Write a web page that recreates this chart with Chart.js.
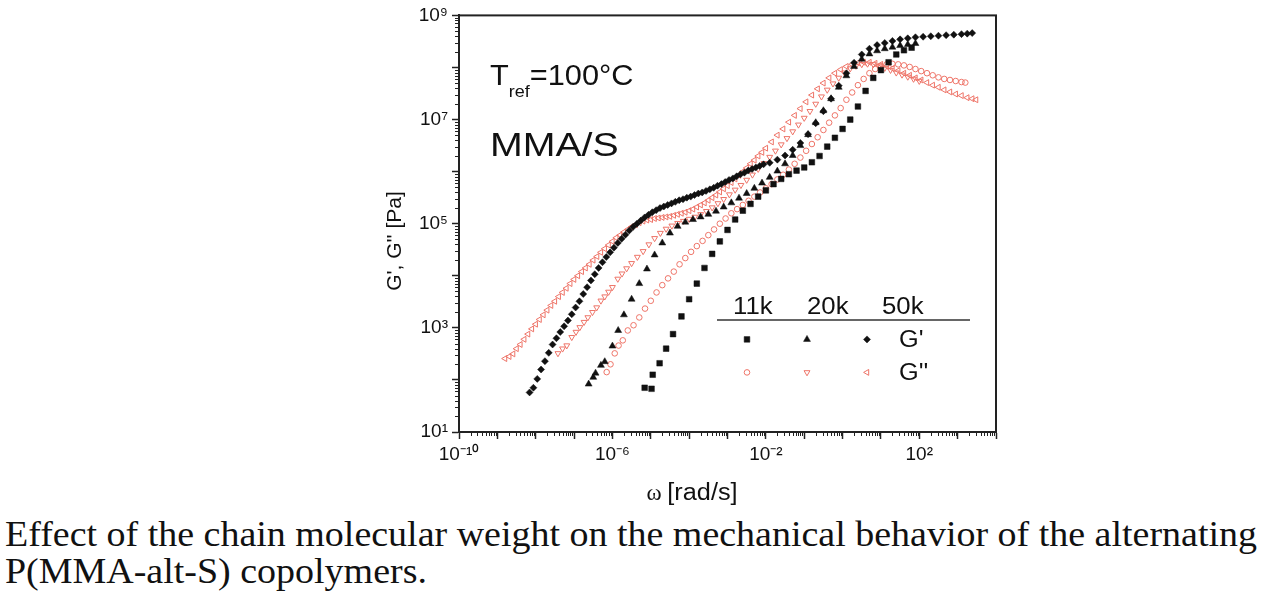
<!DOCTYPE html>
<html><head><meta charset="utf-8">
<script src="https://cdn.jsdelivr.net/npm/chart.js@4.4.1/dist/chart.umd.min.js"></script>
<style>
html,body{margin:0;padding:0;background:#fff;width:1264px;height:592px;overflow:hidden}
#wrap{position:absolute;left:0;top:0;width:1264px;height:505px}
#cap{position:absolute;left:5px;top:516px;font-family:"Liberation Serif","Times New Roman",serif;font-size:35px;line-height:37px;color:#111;white-space:nowrap;transform-origin:0 0}
#l1{display:inline-block}
</style></head><body>
<div id="wrap"><canvas id="c" width="1264" height="505"></canvas></div>
<div id="cap"><span id="l1">Effect of the chain molecular weight on the mechanical behavior of the alternating</span><br>P(MMA-alt-S) copolymers.</div>
<script>
// ---- data: [log10(omega / rad s^-1), log10(G / Pa)] ----
const s11kGp = [[-5.16,1.85],[-4.98,1.83],[-4.95,2.1],[-4.77,2.32],[-4.6,2.6],[-4.42,2.88],[-4.2,3.22],[-4.0,3.55],[-3.8,3.85],[-3.6,4.15],[-3.4,4.42],[-3.2,4.66],[-3.0,4.88],[-2.8,5.08],[-2.6,5.25],[-2.4,5.38],[-2.2,5.52],[-2.0,5.64],[-1.8,5.76],[-1.6,5.86],[-1.4,5.95],[-1.2,6.02],[-1.0,6.08],[-0.8,6.18],[-0.6,6.3],[-0.4,6.48],[-0.2,6.65],[0.0,6.82],[0.2,7.0],[0.4,7.25],[0.6,7.55],[0.8,7.8],[1.0,7.95],[1.2,8.1],[1.4,8.25],[1.6,8.33],[1.8,8.38]];

const s20kGp = [[-6.62,1.92],[-6.5,2.05],[-6.44,2.13],[-6.3,2.28],[-6.2,2.35],[-6.0,2.65],[-5.85,2.95],[-5.7,3.25],[-5.5,3.55],[-5.3,3.85],[-5.1,4.13],[-4.9,4.4],[-4.7,4.63],[-4.5,4.82],[-4.3,4.95],[-4.1,5.03],[-3.9,5.08],[-3.7,5.13],[-3.5,5.18],[-3.3,5.24],[-3.1,5.32],[-2.9,5.4],[-2.7,5.49],[-2.5,5.58],[-2.3,5.68],[-2.1,5.78],[-1.9,5.89],[-1.7,6.01],[-1.5,6.15],[-1.3,6.31],[-1.1,6.5],[-0.9,6.71],[-0.7,6.94],[-0.5,7.17],[-0.3,7.4],[-0.1,7.62],[0.1,7.84],[0.3,8.02],[0.5,8.16],[0.7,8.26],[0.9,8.32],[1.1,8.36],[1.3,8.39],[1.5,8.42],[1.7,8.44],[1.9,8.46]];

const s50kGp = [[-8.16,1.76],[-8.06,1.85],[-7.96,2.02],[-7.86,2.2],[-7.76,2.36],[-7.66,2.52],[-7.56,2.68],[-7.46,2.8],[-7.36,2.92],[-7.26,3.03],[-7.16,3.14],[-7.06,3.26],[-6.96,3.39],[-6.86,3.51],[-6.76,3.65],[-6.66,3.78],[-6.56,3.91],[-6.46,4.03],[-6.36,4.15],[-6.26,4.26],[-6.16,4.36],[-6.06,4.45],[-5.96,4.54],[-5.86,4.63],[-5.76,4.71],[-5.66,4.79],[-5.56,4.87],[-5.46,4.94],[-5.36,5.0],[-5.26,5.06],[-5.16,5.12],[-5.06,5.17],[-4.96,5.22],[-4.86,5.26],[-4.76,5.3],[-4.66,5.33],[-4.56,5.36],[-4.46,5.39],[-4.36,5.42],[-4.26,5.45],[-4.16,5.47],[-4.06,5.5],[-3.96,5.52],[-3.86,5.55],[-3.76,5.58],[-3.66,5.6],[-3.56,5.63],[-3.46,5.66],[-3.36,5.69],[-3.26,5.73],[-3.16,5.76],[-3.06,5.8],[-2.96,5.84],[-2.86,5.87],[-2.76,5.91],[-2.66,5.95],[-2.56,5.98],[-2.46,6.02],[-2.36,6.05],[-2.26,6.08],[-2.16,6.11],[-2.06,6.14],[-1.9,6.17],[-1.7,6.23],[-1.5,6.31],[-1.3,6.42],[-1.1,6.55],[-0.9,6.72],[-0.7,6.93],[-0.5,7.16],[-0.3,7.4],[-0.1,7.65],[0.1,7.89],[0.3,8.09],[0.5,8.25],[0.7,8.36],[0.9,8.43],[1.1,8.47],[1.3,8.51],[1.5,8.54],[1.7,8.56],[1.9,8.58],[2.1,8.59],[2.3,8.6],[2.5,8.61],[2.7,8.62],[2.9,8.63],[3.1,8.64],[3.25,8.65],[3.38,8.66]];

const s11kGpp = [[-6.15,2.15],[-6.05,2.3],[-5.94,2.51],[-5.84,2.66],[-5.73,2.76],[-5.6,2.95],[-5.45,3.05],[-5.3,3.2],[-5.15,3.37],[-5.0,3.52],[-4.85,3.68],[-4.7,3.82],[-4.55,3.95],[-4.4,4.08],[-4.25,4.22],[-4.1,4.34],[-3.95,4.46],[-3.8,4.57],[-3.65,4.67],[-3.5,4.78],[-3.35,4.89],[-3.2,5.0],[-3.05,5.1],[-2.9,5.2],[-2.75,5.28],[-2.6,5.36],[-2.45,5.44],[-2.3,5.52],[-2.15,5.6],[-2.0,5.68],[-1.85,5.76],[-1.7,5.85],[-1.55,5.94],[-1.4,6.04],[-1.25,6.15],[-1.1,6.27],[-0.95,6.4],[-0.8,6.53],[-0.65,6.66],[-0.5,6.8],[-0.35,6.94],[-0.2,7.08],[-0.05,7.22],[0.1,7.38],[0.25,7.52],[0.4,7.66],[0.55,7.78],[0.7,7.89],[0.85,7.97],[1.0,8.03],[1.15,8.06],[1.3,8.07],[1.45,8.06],[1.6,8.04],[1.75,8.01],[1.9,7.97],[2.05,7.93],[2.2,7.89],[2.35,7.85],[2.5,7.81],[2.65,7.78],[2.8,7.76],[2.95,7.74],[3.1,7.72],[3.2,7.71]];

const s20kGpp = [[-7.42,2.51],[-7.3,2.6],[-7.19,2.66],[-7.06,2.82],[-6.95,2.92],[-6.85,3.01],[-6.74,3.11],[-6.64,3.2],[-6.52,3.3],[-6.41,3.39],[-6.3,3.52],[-6.2,3.6],[-6.1,3.69],[-6.0,3.78],[-5.86,3.94],[-5.75,4.04],[-5.63,4.14],[-5.5,4.24],[-5.35,4.36],[-5.2,4.47],[-5.05,4.6],[-4.9,4.72],[-4.75,4.82],[-4.6,4.9],[-4.45,4.96],[-4.3,5.01],[-4.15,5.05],[-4.0,5.09],[-3.85,5.13],[-3.7,5.18],[-3.55,5.24],[-3.4,5.31],[-3.25,5.39],[-3.1,5.47],[-2.95,5.56],[-2.8,5.65],[-2.65,5.74],[-2.5,5.84],[-2.35,5.94],[-2.2,6.05],[-2.05,6.16],[-1.9,6.28],[-1.75,6.4],[-1.6,6.52],[-1.45,6.64],[-1.3,6.77],[-1.15,6.9],[-1.0,7.03],[-0.85,7.16],[-0.7,7.3],[-0.55,7.44],[-0.4,7.57],[-0.25,7.69],[-0.1,7.8],[0.05,7.9],[0.2,7.98],[0.35,8.03],[0.5,8.06],[0.65,8.07],[0.8,8.06],[0.95,8.03],[1.1,7.99],[1.25,7.95],[1.4,7.9],[1.55,7.86],[1.7,7.82],[1.85,7.78],[2.0,7.74]];

const s50kGpp = [[-8.80,2.41],[-8.69,2.45],[-8.59,2.5],[-8.5,2.6],[-8.4,2.68],[-8.3,2.78],[-8.2,2.88],[-8.1,2.98],[-8.0,3.07],[-7.9,3.16],[-7.8,3.25],[-7.7,3.34],[-7.6,3.43],[-7.5,3.51],[-7.4,3.6],[-7.3,3.68],[-7.2,3.76],[-7.1,3.85],[-7.0,3.93],[-6.9,4.0],[-6.8,4.08],[-6.7,4.15],[-6.6,4.22],[-6.5,4.3],[-6.4,4.37],[-6.3,4.45],[-6.2,4.52],[-6.1,4.59],[-6.0,4.66],[-5.9,4.73],[-5.8,4.78],[-5.7,4.84],[-5.6,4.89],[-5.5,4.94],[-5.4,4.98],[-5.3,5.02],[-5.2,5.05],[-5.1,5.07],[-5.0,5.08],[-4.9,5.1],[-4.8,5.11],[-4.7,5.12],[-4.6,5.13],[-4.5,5.14],[-4.4,5.16],[-4.3,5.18],[-4.2,5.2],[-4.1,5.22],[-4.0,5.25],[-3.9,5.28],[-3.8,5.32],[-3.7,5.36],[-3.6,5.4],[-3.5,5.45],[-3.4,5.5],[-3.3,5.55],[-3.2,5.61],[-3.1,5.67],[-3.0,5.73],[-2.9,5.79],[-2.8,5.86],[-2.7,5.93],[-2.6,6.0],[-2.5,6.07],[-2.4,6.15],[-2.3,6.22],[-2.2,6.3],[-2.1,6.37],[-2.0,6.45],[-1.85,6.57],[-1.7,6.7],[-1.55,6.82],[-1.4,6.95],[-1.25,7.08],[-1.1,7.21],[-0.95,7.34],[-0.8,7.47],[-0.65,7.59],[-0.5,7.7],[-0.35,7.8],[-0.2,7.89],[-0.05,7.96],[0.1,8.02],[0.25,8.06],[0.4,8.09],[0.55,8.1],[0.7,8.1],[0.85,8.08],[1.0,8.06],[1.15,8.02],[1.3,7.98],[1.45,7.94],[1.6,7.89],[1.75,7.85],[1.9,7.8],[2.05,7.76],[2.2,7.71],[2.35,7.66],[2.5,7.62],[2.65,7.57],[2.8,7.53],[2.95,7.49],[3.1,7.46],[3.25,7.42],[3.38,7.4],[3.48,7.38]];

// ---- tick labels ----
const xTickValues = [1e-10, 1e-6, 1e-2, 1e2];
const xTickLabels = ['10\u207B\u00B9\u2070', '10\u207B\u2076', '10\u207B\u00B2', '10\u00B2'];
const yTickValues = [1e1, 1e3, 1e5, 1e7, 1e9];
const yTickLabels = ['10\u00B9', '10\u00B3', '10\u2075', '10\u2077', '10\u2079'];
const legendHeaders = ['11k', '20k', '50k'];
const legendRows = ["G'", "G''"];

const BLACK = '#111111';
const RED = 'rgb(238,116,104)';

const markers = [
  { style: 'rect', rot: 0, filled: true, r: 4.0 },
  { style: 'triangle', rot: 0, filled: true, r: 4.0 },
  { style: 'rectRot', rot: 0, filled: true, r: 3.5 },
  { style: 'circle', rot: 0, filled: false, r: 2.8 },
  { style: 'triangle', rot: 180, filled: false, r: 3.4 },
  { style: 'triangle', rot: 270, filled: false, r: 3.4 }
];
const series = [s11kGp, s20kGp, s50kGp, s11kGpp, s20kGpp, s50kGpp];
const seriesNames = ["11k G'", "20k G'", "50k G'", "11k G''", "20k G''", "50k G''"];

const datasets = series.map((s, i) => {
  const m = markers[i];
  return {
    label: seriesNames[i],
    data: s.map(p => ({ x: Math.pow(10, p[0]), y: Math.pow(10, p[1]) })),
    showLine: false,
    pointStyle: m.style, rotation: m.rot, pointRadius: m.r, pointHoverRadius: m.r,
    backgroundColor: m.filled ? BLACK : 'rgba(0,0,0,0)',
    borderColor: m.filled ? BLACK : RED,
    borderWidth: m.filled ? 0.5 : 1
  };
});

const FONT = '"Liberation Sans", Arial, sans-serif';
const SERIF = '"Liberation Serif", "Times New Roman", serif';
function decades(a, b) { const t = []; for (let e = a; e <= b; e++) t.push({ value: Math.pow(10, e) }); return t; }
function lookup(vals, labels, v) {
  const e = Math.round(Math.log10(v));
  const i = vals.findIndex(t => Math.round(Math.log10(t)) === e);
  return i >= 0 ? labels[i] : '';
}
function stext(ctx, str, x, y, sx) {
  ctx.save(); ctx.translate(x, y); ctx.scale(sx, 1); ctx.textAlign = 'left';
  ctx.fillText(str, 0, 0); const w = ctx.measureText(str).width * sx; ctx.restore(); return w;
}

const deco = {
  id: 'deco',
  afterDraw(chart) {
    const { ctx, chartArea: a, scales: { x, y } } = chart;
    ctx.save();
    ctx.strokeStyle = '#222'; ctx.lineWidth = 2;
    ctx.strokeRect(a.left, a.top, a.right - a.left, a.bottom - a.top);
    ctx.lineWidth = 1; ctx.beginPath();
    for (let e = -10; e < 4; e++) for (let k = 2; k < 10; k++) {
      const px = Math.round(x.getPixelForValue(k * Math.pow(10, e))) + 0.5;
      ctx.moveTo(px, a.bottom); ctx.lineTo(px, a.bottom + 4);
    }
    for (let e = 1; e < 9; e++) for (let k = 2; k < 10; k++) {
      const py = Math.round(y.getPixelForValue(k * Math.pow(10, e))) + 0.5;
      ctx.moveTo(a.left, py); ctx.lineTo(a.left - 4, py);
    }
    ctx.stroke();

    ctx.fillStyle = '#111';
    ctx.textBaseline = 'alphabetic';
    let tx = a.left + 31;
    ctx.font = '29px ' + FONT;
    tx += stext(ctx, 'T', tx, a.top + 70, 1.06);
    ctx.font = '17px ' + FONT;
    tx += stext(ctx, 'ref', tx, a.top + 82, 1.06);
    ctx.font = '29px ' + FONT;
    stext(ctx, '=100\u00B0C', tx, a.top + 70, 1.06);
    ctx.font = '33px ' + FONT;
    stext(ctx, 'MMA/S', a.left + 31, a.top + 141, 1.19);

    ctx.font = '23px ' + SERIF; const wOm = ctx.measureText('\u03C9 ').width;
    ctx.font = '23px ' + FONT; const wU = ctx.measureText('[rad/s]').width * 1.1;
    let xx = 692 - (wOm + wU) / 2;
    ctx.font = '23px ' + SERIF; ctx.fillText('\u03C9', xx, a.bottom + 68); xx += wOm;
    ctx.font = '23px ' + FONT; stext(ctx, '[rad/s]', xx, a.bottom + 68, 1.1);

    ctx.save(); ctx.translate(a.left - 64, 241); ctx.rotate(-Math.PI / 2);
    ctx.font = '21px ' + FONT; ctx.textAlign = 'center'; ctx.textBaseline = 'middle';
    ctx.fillText("G', G'' [Pa]", 0, 0); ctx.restore();

    const L = a.left, T = a.top;
    const colX = [L + 274, L + 348, L + 423];
    const mkX = [L + 288, L + 348, L + 408];
    ctx.font = '23px ' + FONT;
    legendHeaders.forEach((h, i) => stext(ctx, h, colX[i], T + 299, 1.12));
    ctx.strokeStyle = '#333'; ctx.lineWidth = 1.5;
    ctx.beginPath(); ctx.moveTo(L + 258, T + 304.5); ctx.lineTo(L + 511, T + 304.5); ctx.stroke();
    legendRows.forEach((r, i) => stext(ctx, r, L + 440, T + 332 + i * 33, 1.1));
    for (let i = 0; i < 6; i++) {
      const m = markers[i];
      const col = i % 3, row = Math.floor(i / 3);
      ctx.fillStyle = m.filled ? BLACK : 'rgba(0,0,0,0)';
      ctx.strokeStyle = m.filled ? BLACK : RED;
      ctx.lineWidth = m.filled ? 0.5 : 1;
      Chart.helpers.drawPoint(ctx, { pointStyle: m.style, rotation: m.rot, radius: m.r, borderWidth: ctx.lineWidth }, mkX[col], T + 324 + row * 33);
    }
    ctx.restore();
  }
};

new Chart(document.getElementById('c'), {
  type: 'scatter',
  data: { datasets },
  options: {
    responsive: false, animation: false, devicePixelRatio: 1,
    layout: { padding: { left: 389, right: 268, top: 13, bottom: 3 } },
    plugins: { legend: { display: false }, tooltip: { enabled: false } },
    scales: {
      x: {
        type: 'logarithmic', min: 1e-10, max: 1e4,
        afterBuildTicks: s => { s.ticks = decades(-10, 4); },
        afterFit: s => { s.height = 70; },
        ticks: { autoSkip: false, maxRotation: 0, padding: 4, color: '#111', font: { family: FONT, size: 19 },
                 callback: v => lookup(xTickValues, xTickLabels, v) },
        grid: { drawOnChartArea: false, drawTicks: true, tickLength: 7, tickColor: '#222', tickWidth: 1.5 },
        border: { color: '#222', width: 2 }
      },
      y: {
        type: 'logarithmic', min: 1e1, max: 1e9,
        afterBuildTicks: s => { s.ticks = decades(1, 9); },
        afterFit: s => { s.width = 70; },
        ticks: { autoSkip: false, padding: 4, color: '#111', font: { family: FONT, size: 19 },
                 callback: v => lookup(yTickValues, yTickLabels, v) },
        grid: { drawOnChartArea: false, drawTicks: true, tickLength: 7, tickColor: '#222', tickWidth: 1.5 },
        border: { color: '#222', width: 2 }
      }
    }
  },
  plugins: [deco]
});

const l1 = document.getElementById('l1');
const sc = 1252 / l1.getBoundingClientRect().width;
document.getElementById('cap').style.transform = 'scaleX(' + sc + ')';
</script></body></html>
